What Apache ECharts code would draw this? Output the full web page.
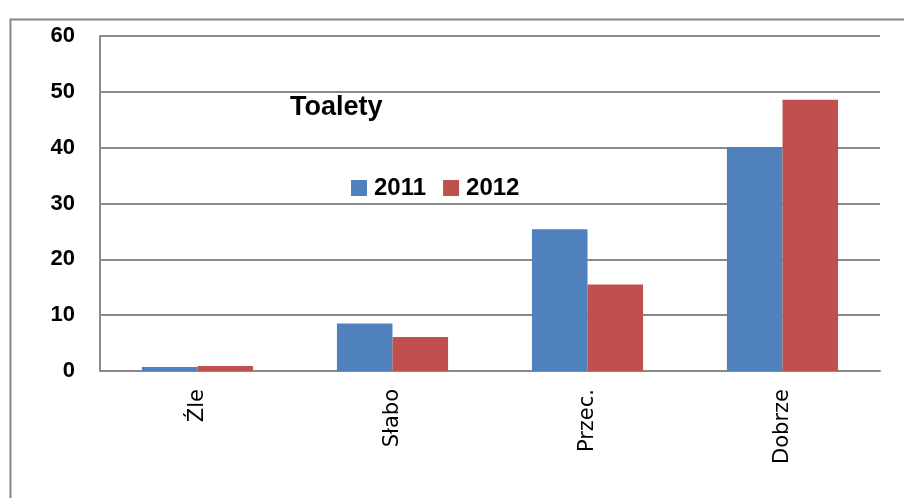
<!DOCTYPE html>
<html lang="pl">
<head>
    <meta charset="UTF-8">
    <title>Toalety</title>
    <script src="https://cdn.jsdelivr.net/npm/echarts@6/dist/echarts.min.js"></script>
    <style>
        html, body { margin: 0; padding: 0; background: #fff; }
    </style>
</head>
<body>
    <div id="main" style="width:904px; height:498px;"></div>
    <script>
        var categories = ['Źle', 'Słabo', 'Przec.', 'Dobrze'];
        var seriesNames = ['2011', '2012'];
        var values2011 = [0.7, 8.5, 25.4, 40.1];
        var values2012 = [0.9, 6.1, 15.5, 48.6];
        var yTicks = [0, 10, 20, 30, 40, 50, 60];

        var chart = echarts.init(document.getElementById('main'));

        var option = {
            animation: false,
            title: {
                text: 'Toalety',
                left: 290,
                top: 94,
                padding: 0,
                textStyle: {
                    fontFamily: 'Liberation Sans',
                    fontWeight: 'bold',
                    fontSize: 27,
                    color: '#000'
                }
            },
            legend: {
                data: seriesNames,
                left: 351,
                top: 176,
                padding: 0,
                icon: 'rect',
                itemWidth: 16,
                itemHeight: 16,
                itemGap: 17,
                textStyle: {
                    fontFamily: 'Liberation Sans',
                    fontWeight: 'bold',
                    fontSize: 24,
                    color: '#000',
                    padding: [0, 0, 0, 2]
                }
            },
            // ramka wykresu
            graphic: [{
                type: 'rect',
                left: 8,
                top: 17,
                shape: { width: 1000, height: 1000 },
                style: { fill: 'none', stroke: '#858585', lineWidth: 2 },
                silent: true
            }],
            grid: {
                left: 100,
                right: 24,
                top: 36,
                bottom: 127
            },
            xAxis: {
                type: 'category',
                data: categories,
                axisLine: { lineStyle: { color: '#8a8a8a', width: 2 } },
                axisTick: { show: false },
                axisLabel: {
                    rotate: 90,
                    margin: 18,
                    fontFamily: 'DejaVu Sans',
                    fontSize: 21,
                    color: '#000'
                }
            },
            yAxis: {
                type: 'value',
                min: yTicks[0],
                max: yTicks[yTicks.length - 1],
                interval: 10,
                axisLine: { show: true, lineStyle: { color: '#8a8a8a', width: 2 } },
                axisTick: { show: false },
                splitLine: { lineStyle: { color: '#8a8a8a', width: 2 } },
                axisLabel: {
                    margin: 25,
                    fontFamily: 'Liberation Sans',
                    fontWeight: 'bold',
                    fontSize: 22,
                    color: '#000'
                }
            },
            series: [
                {
                    name: seriesNames[0],
                    type: 'bar',
                    data: values2011,
                    barGap: '0%',
                    barCategoryGap: '43%',
                    itemStyle: { color: '#4f81bd' }
                },
                {
                    name: seriesNames[1],
                    type: 'bar',
                    data: values2012,
                    itemStyle: { color: '#c0504d' }
                }
            ]
        };

        chart.setOption(option);
    </script>
</body>
</html>
